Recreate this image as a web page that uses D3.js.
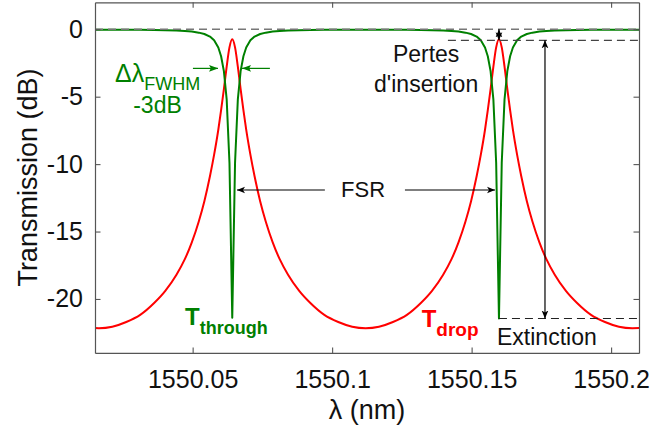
<!DOCTYPE html>
<html><head><meta charset="utf-8">
<script src="https://cdn.jsdelivr.net/npm/d3@7"></script>
<style>
body{margin:0;background:#fff}
svg{display:block}
text{font-family:"Liberation Sans",Arial,Helvetica,sans-serif}
</style>
</head><body>
<svg id="chart" width="650" height="432"></svg>
<script>
// ---- data ----
const wavelength = [
  1550.0150, 1550.0164,
  1550.0212, 1550.0262, 1550.0312, 1550.0362, 1550.0402, 1550.0442, 1550.0472, 1550.0497, 1550.0522,
  1550.0542, 1550.0562, 1550.0577, 1550.0592, 1550.0602, 1550.0612, 1550.0622, 1550.0632,
  1550.0642,
  1550.0652, 1550.0662, 1550.0672, 1550.0682, 1550.0692, 1550.0707, 1550.0722, 1550.0742, 1550.0762,
  1550.0787, 1550.0812, 1550.0842, 1550.0882, 1550.0922, 1550.0972, 1550.1022, 1550.1072,
  1550.1120,
  1550.1168, 1550.1218, 1550.1268, 1550.1318, 1550.1358, 1550.1398, 1550.1428, 1550.1453, 1550.1478,
  1550.1498, 1550.1518, 1550.1533, 1550.1548, 1550.1558, 1550.1568, 1550.1578, 1550.1588,
  1550.1598,
  1550.1608, 1550.1618, 1550.1628, 1550.1638, 1550.1648, 1550.1663, 1550.1678, 1550.1698, 1550.1718,
  1550.1743, 1550.1768, 1550.1798, 1550.1838, 1550.1878, 1550.1928, 1550.1978, 1550.2028,
  1550.2076, 1550.2100
];
const dropDB = [
  -22.16, -22.17,
  -22.06, -21.71, -21.18, -20.30, -19.40, -18.20, -17.05, -15.80, -14.25,
  -12.75, -10.90, -9.30, -7.45, -6.00, -4.43, -2.77, -1.34,
  -0.74,
  -1.34, -2.77, -4.43, -6.00, -7.45, -9.30, -10.90, -12.75, -14.25,
  -15.80, -17.05, -18.20, -19.40, -20.30, -21.18, -21.71, -22.06,
  -22.17,
  -22.06, -21.71, -21.18, -20.30, -19.40, -18.20, -17.05, -15.80, -14.25,
  -12.75, -10.90, -9.30, -7.45, -6.00, -4.43, -2.77, -1.34,
  -0.74,
  -1.34, -2.77, -4.43, -6.00, -7.45, -9.30, -10.90, -12.75, -14.25,
  -15.80, -17.05, -18.20, -19.40, -20.30, -21.18, -21.71, -22.06,
  -22.17, -22.16
];
const throughDB = [
  -0.03, -0.03,
  -0.03, -0.035, -0.04, -0.05, -0.065, -0.09, -0.125, -0.17, -0.25,
  -0.35, -0.54, -0.82, -1.35, -2.00, -3.10, -5.20, -9.90,
  -21.40,
  -9.90, -5.20, -3.10, -2.00, -1.35, -0.82, -0.54, -0.35, -0.25,
  -0.17, -0.125, -0.09, -0.065, -0.05, -0.04, -0.035, -0.03,
  -0.03,
  -0.03, -0.035, -0.04, -0.05, -0.065, -0.09, -0.125, -0.17, -0.25,
  -0.35, -0.54, -0.82, -1.35, -2.00, -3.10, -5.20, -9.90,
  -21.45,
  -9.90, -5.20, -3.10, -2.00, -1.35, -0.82, -0.54, -0.35, -0.25,
  -0.17, -0.125, -0.09, -0.065, -0.05, -0.04, -0.035, -0.03,
  -0.03, -0.03
];
const xTicks = [1550.05, 1550.1, 1550.15, 1550.2];
const xTickLabels = ["1550.05", "1550.1", "1550.15", "1550.2"];
const yTicks = [0, -5, -10, -15, -20];
const yTickLabels = ["0", "-5", "-10", "-15", "-20"];
const xDomain = [1550.015, 1550.21];
const yDomain = [-24, 2];

// annotation values (nm, dB)
const resonances = [1550.0642, 1550.1598];
const referenceDB = 0;
const insertionLossDB = -0.82;
const extinctionDB = -21.45;
const fwhmArrowDB = -2.9;
const fwhmArrowsX = [[1550.0501, 1550.0591], [1550.0777, 1550.0677]];
const fsrArrowDB = -11.92;
const fsrArrowsX = [[1550.0974, 1550.0659], [1550.1261, 1550.1584]];
const insertionDashStart = 1550.1415;
const extinctionArrowX = 1550.1763;

// ---- layout ----
const W = 650, H = 432;
const margin = {left: 95, right: 11, top: 2.3, bottom: 79.1};
const iw = W - margin.left - margin.right;
const ih = H - margin.top - margin.bottom;
const GREEN = "#008000", RED = "#ff0000", AXIS = "#555";

const svg = d3.select("#chart");
const defs = svg.append("defs");
defs.append("marker").attr("id", "blackHead")
  .attr("viewBox", "0 -5 10 10").attr("refX", 10).attr("refY", 0)
  .attr("markerUnits", "userSpaceOnUse").attr("markerWidth", 8).attr("markerHeight", 8)
  .attr("orient", "auto-start-reverse")
  .append("path").attr("d", "M0,-4.2L10,0L0,4.2L2.5,0Z").attr("fill", "#000");
defs.append("marker").attr("id", "greenHead")
  .attr("viewBox", "0 -5 10 10").attr("refX", 10).attr("refY", 0)
  .attr("markerUnits", "userSpaceOnUse").attr("markerWidth", 9).attr("markerHeight", 9)
  .attr("orient", "auto")
  .append("path").attr("d", "M0,-3.8L10,0L0,3.8L2,0Z").attr("fill", GREEN);

const g = svg.append("g").attr("transform", `translate(${margin.left},${margin.top})`);

const x = d3.scaleLinear().domain(xDomain).range([0, iw]);
const y = d3.scaleLinear().domain(yDomain).range([ih, 0]);

defs.append("clipPath").attr("id", "clip").append("rect")
  .attr("width", iw).attr("height", ih);

const pts = wavelength.map((w, i) => ({w, d: dropDB[i], t: throughDB[i]}));
const plot = g.append("g").attr("clip-path", "url(#clip)");

plot.append("path").datum(pts)
  .attr("fill", "none").attr("stroke", RED).attr("stroke-width", 2)
  .attr("stroke-linejoin", "round")
  .attr("d", d3.line().curve(d3.curveMonotoneX).x(p => x(p.w)).y(p => y(p.d)));
plot.append("path").datum(pts)
  .attr("fill", "none").attr("stroke", GREEN).attr("stroke-width", 2)
  .attr("stroke-linejoin", "round")
  .attr("d", d3.line().x(p => x(p.w)).y(p => y(p.t)));

// dashed reference lines
plot.append("line").attr("x1", 0).attr("x2", iw)
  .attr("y1", y(referenceDB)).attr("y2", y(referenceDB))
  .attr("stroke", "#777").attr("stroke-width", 1.4).attr("stroke-dasharray", "8,5");
plot.append("line").attr("x1", x(insertionDashStart)).attr("x2", iw)
  .attr("y1", y(insertionLossDB)).attr("y2", y(insertionLossDB))
  .attr("stroke", "#444").attr("stroke-width", 1.1).attr("stroke-dasharray", "8,5");
plot.append("line").attr("x1", x(resonances[1])).attr("x2", iw)
  .attr("y1", y(extinctionDB)).attr("y2", y(extinctionDB))
  .attr("stroke", "#222").attr("stroke-width", 1.1).attr("stroke-dasharray", "8,5");

// axes
const xAxisB = d3.axisBottom(x).tickValues(xTicks).tickFormat((d, i) => xTickLabels[i])
  .tickSizeInner(-5.5).tickSizeOuter(0).tickPadding(17);
const xAxisT = d3.axisTop(x).tickValues(xTicks).tickFormat("")
  .tickSizeInner(-5.5).tickSizeOuter(0);
const yAxisL = d3.axisLeft(y).tickValues(yTicks).tickFormat((d, i) => yTickLabels[i])
  .tickSizeInner(-5.5).tickSizeOuter(0).tickPadding(12);
const yAxisR = d3.axisRight(y).tickValues(yTicks).tickFormat("")
  .tickSizeInner(-5.5).tickSizeOuter(0);

function style(sel) {
  sel.selectAll("path.domain").attr("stroke", AXIS).attr("stroke-width", 1.2);
  sel.selectAll(".tick line").attr("stroke", AXIS).attr("stroke-width", 1.1);
  sel.selectAll(".tick text").attr("fill", "#111").attr("font-size", 25)
    .style("font-family", '"Liberation Sans", Arial, sans-serif');
}
g.append("g").attr("transform", `translate(0,${ih})`).call(xAxisB).call(style);
g.append("g").call(xAxisT).call(style);
g.append("g").call(yAxisL).call(style);
g.append("g").attr("transform", `translate(${iw},0)`).call(yAxisR).call(style);

// axis titles
const xl = g.append("text").attr("x", iw / 2).attr("y", 419.3 - margin.top)
  .attr("text-anchor", "middle").attr("font-size", 27).attr("fill", "#111");
xl.append("tspan").text("λ");
xl.append("tspan").text(" (nm)");
g.append("text")
  .attr("transform", `translate(${37 - margin.left},${ih / 2}) rotate(-90)`)
  .attr("text-anchor", "middle").attr("font-size", 27).attr("fill", "#111")
  .text("Transmission (dB)");

// FWHM arrows
fwhmArrowsX.forEach(([a, b]) => {
  g.append("line").attr("x1", x(a)).attr("x2", x(b))
    .attr("y1", y(fwhmArrowDB)).attr("y2", y(fwhmArrowDB))
    .attr("stroke", GREEN).attr("stroke-width", 1.2).attr("marker-end", "url(#greenHead)");
});
// FSR arrows
fsrArrowsX.forEach(([a, b]) => {
  g.append("line").attr("x1", x(a)).attr("x2", x(b))
    .attr("y1", y(fsrArrowDB)).attr("y2", y(fsrArrowDB))
    .attr("stroke", "#000").attr("stroke-width", 1.2).attr("marker-end", "url(#blackHead)");
});
// insertion-loss double arrow
g.append("line").attr("x1", x(resonances[1])).attr("x2", x(resonances[1]))
  .attr("y1", y(referenceDB)).attr("y2", y(insertionLossDB))
  .attr("stroke", "#000").attr("stroke-width", 1.2)
  .attr("marker-start", "url(#blackHead)").attr("marker-end", "url(#blackHead)");
// extinction double arrow
g.append("line").attr("x1", x(extinctionArrowX)).attr("x2", x(extinctionArrowX))
  .attr("y1", y(insertionLossDB)).attr("y2", y(extinctionDB))
  .attr("stroke", "#000").attr("stroke-width", 1.2)
  .attr("marker-start", "url(#blackHead)").attr("marker-end", "url(#blackHead)");

// text annotations (positions in nm / dB)
function label(w, db, anchor, size, color, weight) {
  return g.append("text").attr("x", x(w)).attr("y", y(db))
    .attr("text-anchor", anchor).attr("font-size", size)
    .attr("fill", color).attr("font-weight", weight || "normal");
}
label(1550.1111, -12.46, "middle", 22, "#111").text("FSR");
label(1550.1337, -2.4, "middle", 23, "#111").text("Pertes");
label(1550.1337, -4.63, "middle", 23, "#111").text("d'insertion");
label(1550.1591, -23.4, "start", 23, "#111").text("Extinction");

const dl = label(1550.0222, -3.89, "start", 25, GREEN);
dl.append("tspan").text("Δλ");
dl.append("tspan").attr("dy", 8).attr("font-size", 18).text("FWHM");
label(1550.0374, -6.23, "middle", 23, GREEN).text("-3dB");

const tt = label(1550.0473, -21.93, "start", 24, GREEN, "bold");
tt.append("tspan").text("T");
tt.append("tspan").attr("dy", 9).attr("font-size", 18).text("through");
const td = label(1550.1321, -22.08, "start", 24, RED, "bold");
td.append("tspan").text("T");
td.append("tspan").attr("dy", 9).attr("font-size", 19).text("drop");
</script>
</body></html>
